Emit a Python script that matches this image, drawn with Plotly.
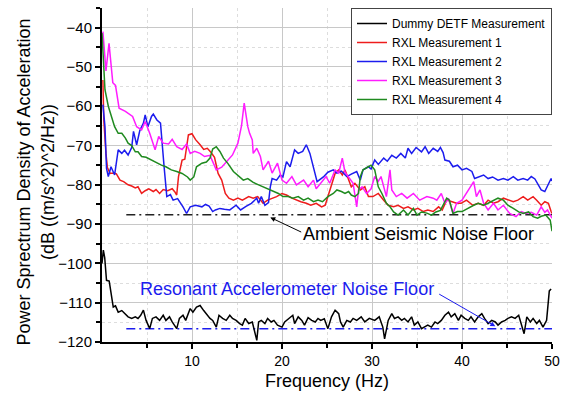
import plotly.graph_objects as go

# ---------------- data ----------------
dummy_f = [0, 0.15, 0.3, 0.5, 0.8, 1.1, 1.25, 1.5, 1.8, 2.2, 2.6, 2.9, 3.3, 3.7, 4.0, 4.3, 4.6, 4.9, 5.3, 5.6,
           6.0, 6.4, 6.8, 7.1, 7.5, 7.8, 8.3, 8.6, 9.0, 9.3, 9.8, 10.1, 10.5, 10.9, 11.3, 11.6, 12.0, 12.3, 12.7, 13.0,
           13.4, 13.8, 14.2, 14.5, 14.9, 15.3, 15.6, 15.9, 16.3, 16.7, 17.2, 17.4, 17.7, 18.1, 18.4, 18.8, 19.1, 19.5, 20.0, 20.3,
           20.9, 21.2, 21.4, 21.8, 22.2, 22.5, 22.9, 23.3, 23.7, 24.0, 24.3, 24.7, 25.1, 25.5, 25.9, 26.3, 26.5, 26.8, 27.2, 27.6,
           27.9, 28.3, 28.8, 29.2, 29.7, 30.3, 30.8, 31.2, 31.4, 31.8, 32.2, 32.5, 32.9, 33.3, 33.6, 34.0, 34.4, 34.7, 35.1, 35.5,
           35.8, 36.2, 36.6, 37.0, 37.3, 37.7, 38.1, 38.5, 38.8, 39.2, 39.6, 39.9, 40.3, 40.7, 41.0, 41.4, 41.8, 42.2, 42.5, 42.9,
           43.3, 43.7, 44.0, 44.4, 44.8, 45.1, 45.5, 45.9, 46.3, 46.6, 46.9, 47.2, 47.6, 47.9, 48.3, 48.6, 49.0, 49.4, 49.7, 49.9]
dummy_db = [-100, -96.6, -98.5, -104.3, -104.5, -109.4, -111.1, -110.8, -112.4, -112, -112.8, -113.6, -114, -113.6, -114, -113.2, -111.9, -114.5, -116.6, -114,
            -113.6, -114.5, -113.2, -114.5, -113.6, -114.9, -116.6, -114, -113.2, -114.5, -111.5, -112.4, -111.1, -110.7, -112, -112.8, -114, -114.5, -116.2, -113.2,
            -114, -114.5, -113.2, -114, -114.5, -115.3, -115.7, -114, -115.3, -114.9, -119.6, -114.9, -114.5, -115.3, -114, -114.9, -114.5, -115.7, -116.2, -114.9,
            -113.6, -113.2, -115.3, -113.6, -114.5, -115.7, -113.8, -114.5, -114.9, -114, -114.5, -114.1, -116.6, -113.6, -111.9, -112.8, -114.9, -116.2, -114.5, -114.9,
            -114, -114.5, -113.6, -114.9, -114, -114.5, -113.6, -116.2, -119.2, -114.5, -112.8, -114, -113.6, -114.5, -114, -114.9, -113.6, -115.7, -114.9, -116.6,
            -116.2, -115.7, -116.2, -114.9, -115.3, -114.5, -113.2, -112.4, -113.6, -112.8, -114.5, -113.2, -114, -114.5, -113.6, -114.9, -113.6, -112.8, -114, -115.3,
            -114.5, -114.9, -115.7, -114.9, -114.5, -114, -113.6, -114, -113.2, -115.3, -117.9, -113.6, -114.9, -114, -115.3, -114.5, -116.2, -114.5, -107, -106.5]

rxl1_f = [0.1, 0.2, 0.44, 0.6, 0.9, 1.3, 1.6, 2.0, 2.4, 2.9, 3.3, 3.7, 4.0, 4.4, 4.8, 5.2, 5.7, 6.0, 6.4, 6.8,
          7.3, 7.8, 8.1, 8.3, 8.5, 8.9, 9.2, 9.6, 10.0, 10.4, 10.9, 11.3, 11.7, 12.1, 12.5, 12.9, 13.3, 13.7, 14.1, 14.6,
          15.1, 15.6, 16.3, 16.8, 17.3, 17.9, 18.4, 19.0, 19.4, 20.0, 20.5, 21.1, 21.6, 22.1, 22.7, 23.2, 23.8, 24.4, 24.8, 25.1,
          25.5, 25.9, 26.3, 26.7, 27.0, 27.4, 27.7, 28.1, 28.7, 29.2, 29.6, 30.1, 30.7, 31.3, 31.8, 32.4, 32.9, 33.5, 34.0, 34.6,
          35.1, 35.7, 36.2, 36.8, 37.4, 37.8, 38.3, 38.9, 39.4, 39.9, 40.5, 41.2, 41.8, 42.4, 42.9, 43.5, 44.0, 44.6, 45.1, 45.7,
          46.2, 46.8, 47.3, 47.9, 48.3, 48.8, 49.2, 49.6, 49.9, 50.0]
rxl1_db = [-53.3, -63.5, -72, -75.6, -77.1, -77, -77.2, -78.8, -79.2, -80, -80.3, -80.8, -80.5, -82.2, -81.5, -81, -81.7, -81.2, -82.2, -81.2,
           -81.5, -81, -81.8, -82.6, -77.9, -73.7, -73.5, -67.3, -67, -68.5, -69.8, -71, -70.7, -71.7, -73, -77.1, -78.8, -82.2, -83.4, -83.9,
           -83.4, -83.9, -83, -83.4, -83, -84.7, -83.9, -83.4, -83, -82.2, -82.6, -83.4, -83.9, -84.3, -84.7, -85.2, -84.7, -85.6, -85.2, -83,
           -79.6, -77.1, -76.2, -77.5, -76.2, -78.8, -80.5, -79.6, -81.3, -80.5, -83, -83, -82.2, -83.9, -85.2, -85.6, -85.2, -86, -85.6, -86.4,
           -86, -86.8, -86.4, -86.8, -85.6, -86.4, -83.9, -84.3, -84.7, -84.7, -83.9, -85.2, -84.7, -85.2, -83.9, -84.7, -84.3, -83.4, -83.9, -84.3,
           -83.9, -83, -83.9, -83, -83.9, -85.2, -84.3, -84.7, -86.8, -87.3]

rxl2_f = [0.1, 0.33, 0.5, 0.7, 1.0, 1.4, 1.8, 2.2, 2.5, 2.9, 3.3, 3.5, 3.85, 4.2, 4.6, 4.8, 5.1, 5.5, 5.7, 6.1,
          6.5, 6.6, 6.9, 7.2, 7.6, 7.9, 8.4, 9.0, 9.4, 9.8, 10.4, 11.1, 11.5, 11.9, 12.3, 12.6, 13.1, 13.6, 14.2, 14.9,
          15.4, 16.0, 16.6, 17.2, 17.4, 17.7, 18.1, 18.5, 18.7, 18.9, 19.4, 19.8, 20.1, 20.5, 20.9, 21.4, 21.8, 22.3, 22.7, 23.1,
          23.5, 23.9, 24.6, 25.1, 25.7, 26.1, 26.6, 27.2, 27.7, 28.3, 28.7, 29.0, 29.6, 29.9, 30.3, 30.7, 31.3, 31.7, 32.2, 32.7,
          33.2, 33.7, 34.0, 34.4, 34.9, 35.5, 35.9, 36.3, 36.8, 37.3, 37.6, 37.9, 38.1, 38.6, 39.0, 39.5, 40.0, 40.5, 40.8, 41.1,
          41.4, 41.9, 42.4, 42.9, 43.4, 44.0, 44.6, 45.1, 45.7, 46.2, 46.8, 47.3, 47.7, 48.1, 48.5, 48.8, 49.2, 49.6, 49.9, 50.0]
rxl2_db = [-59.6, -65.2, -75.8, -77.9, -75.4, -77.5, -71.1, -72, -71.2, -72.4, -70.5, -66.4, -69.8, -66.2, -64.3, -62.2, -65.2, -62.6, -62, -63.5,
           -64.3, -67.7, -75.4, -83, -82.5, -83.9, -83.5, -85.6, -87.3, -85.6, -85.2, -85.6, -85, -85.4, -86.8, -86.4, -86, -86.2, -86.4, -85.2,
           -86.4, -85.5, -84.7, -83.4, -84.7, -83, -85.2, -84.5, -80.5, -78.4, -78.8, -77.5, -78, -74.1, -75.4, -71.1, -72, -71.5, -69.8, -72,
           -75.8, -79.2, -78, -76.8, -76.2, -77, -76.5, -77.9, -77.3, -76.6, -78.8, -76.2, -75.4, -76, -73.7, -74.8, -73.2, -74, -72.5, -73.2,
           -72, -73.2, -70.7, -72, -70.5, -71.6, -70.3, -72, -70.7, -71.5, -70.5, -71.8, -73.7, -74, -75.4, -75, -76.2, -75.8, -76.2, -76.6,
           -78.4, -78, -77.5, -78.4, -78, -78.8, -78.4, -78.8, -77.9, -78.8, -78.4, -78.8, -77.9, -78.5, -80, -81.3, -81.7, -79.6, -78.4, -79]

rxl3_f = [0.1, 0.44, 0.78, 1.2, 1.5, 1.9, 2.6, 3.1, 3.4, 3.85, 4.4, 4.8, 5.3, 5.9, 6.3, 6.8, 7.4, 7.8, 8.3, 8.9,
          9.4, 9.8, 10.3, 10.9, 11.4, 12.0, 12.7, 13.3, 14.0, 14.5, 15.1, 15.5, 15.8, 16.2, 16.4, 16.7, 16.8, 17.2, 17.6, 17.9,
          18.5, 18.9, 19.5, 20.0, 20.5, 21.1, 21.6, 22.4, 22.9, 23.5, 23.8, 24.3, 24.9, 25.3, 25.9, 26.3, 26.7, 27.0, 27.6, 27.9,
          28.3, 28.5, 28.9, 29.4, 29.9, 30.3, 30.7, 31.0, 31.6, 32.0, 32.2, 32.7, 33.3, 33.9, 34.6, 35.3, 36.1, 36.8, 37.2, 37.7,
          38.1, 38.5, 39.0, 39.4, 40.0, 40.5, 40.9, 41.3, 41.6, 42.0, 42.4, 42.9, 43.5, 44.0, 44.6, 45.3, 46.0, 46.6, 47.1, 47.7,
          48.3, 48.8, 49.2, 49.5, 50.0]
rxl3_db = [-41, -51, -44, -54, -54.7, -60.5, -61.3, -62.2, -62.6, -65.2, -66, -63.9, -66.9, -71.1, -67.7, -69.4, -69.6, -68.4, -70.3, -71,
           -69.6, -72, -71.5, -72, -72.8, -72.5, -76.2, -75.5, -73.7, -72.4, -69.4, -65, -59.2, -65.2, -66.9, -68.6, -72, -70.7, -72.8, -76.2,
           -74, -77, -74.5, -78.8, -79.6, -77.9, -80, -78.8, -80.5, -78.8, -81, -79.6, -77.9, -79.6, -76.2, -77, -73.2, -76.8, -78.8, -79.6,
           -85.6, -81.3, -80.5, -82.2, -81, -77.9, -79.1, -77.9, -83, -76.2, -81.3, -83, -82.2, -83.4, -82.2, -83.9, -83, -83.4, -83.9, -82.2,
           -84.7, -83.5, -87.3, -84.7, -83.9, -82.2, -80.5, -79.2, -83, -81.3, -84.7, -86.4, -84.7, -86.4, -85.2, -87.3, -88.1, -86.8, -87.3, -87,
           -87.7, -85.6, -87, -86.4, -88.5]

rxl4_f = [0.0, 0.15, 0.33, 0.7, 1.0, 1.4, 1.8, 2.2, 2.6, 2.9, 3.3, 3.7, 4.0, 4.4, 4.9, 5.5, 6.0, 6.6, 7.1, 7.7,
          8.3, 8.9, 9.5, 9.8, 10.2, 10.5, 11.1, 11.6, 12.0, 12.3, 12.7, 13.1, 13.5, 14.0, 14.6, 15.1, 15.7, 16.2, 16.8, 17.4,
          17.9, 18.5, 19.1, 19.6, 20.1, 20.7, 21.2, 21.8, 22.4, 22.9, 23.5, 24.0, 24.5, 25.1, 25.7, 26.1, 26.6, 27.0, 27.4, 27.7,
          28.1, 28.5, 28.7, 29.0, 29.6, 29.9, 30.3, 30.7, 31.1, 31.6, 32.0, 32.4, 32.9, 33.5, 34.0, 34.6, 35.0, 35.5, 36.1, 36.6,
          37.1, 37.6, 38.3, 38.6, 39.0, 39.5, 40.0, 40.6, 41.3, 41.8, 42.4, 42.9, 43.5, 44.0, 44.6, 45.1, 45.7, 46.3, 46.8, 47.4,
          47.9, 48.4, 48.8, 49.3, 49.8, 50.0]
rxl4_db = [-41.4, -48.2, -55.8, -60, -62, -65.2, -66.9, -66.9, -68.1, -69.4, -70, -71.6, -71.6, -72.8, -73, -73.7, -74.4, -75, -75.4, -76.2,
           -76.6, -77.1, -78, -78.8, -78, -75.4, -74.5, -74.2, -73.2, -70.9, -70.3, -71.5, -73.2, -74.6, -76.6, -77.7, -78.8, -78.4, -79.4, -80,
           -80.5, -81.3, -81.7, -82.2, -83, -83, -83.4, -83, -83.9, -83.4, -84.3, -83.9, -84.3, -83, -82.2, -81.3, -81.7, -82.2, -81.7, -82.6,
           -83, -82.2, -77.9, -76.2, -75.4, -75, -76.2, -80.5, -82.2, -84.7, -85.6, -86.9, -87.7, -86.4, -87.7, -86, -87.7, -86.9, -87.2, -87.7,
           -86.9, -86.5, -83.4, -83.9, -87.3, -86.8, -86.8, -86, -85.2, -84.7, -85.2, -84.7, -83.9, -83.4, -83.9, -85.2, -86, -86.9, -87.3, -86.9,
           -88.1, -88.5, -88, -87.7, -89, -91.8]

floor_f = [2.7, 50]
ambient_floor_db = [-87.6, -87.6]
resonant_floor_db = [-116.6, -116.6]

series_names = ["Dummy DETF Measurement", "RXL Measurement 1", "RXL Measurement 2",
                "RXL Measurement 3", "RXL Measurement 4"]
series_colors = ["#000000", "#ee1c1c", "#1c1cee", "#ff1cff", "#1f8a1f"]

x_tickvals = [10, 20, 30, 40, 50]
x_minor_tickvals = [5, 15, 25, 35, 45]
y_tickvals = [-120, -110, -100, -90, -80, -70, -60, -50, -40]

FONT = "Liberation Sans, Arial, sans-serif"

fig = go.Figure()

# noise floor reference lines
fig.add_trace(go.Scatter(x=floor_f, y=ambient_floor_db, mode="lines", showlegend=False,
                         line=dict(color="#222222", width=1.5, dash="9px,4px,2px,4px"), hoverinfo="skip"))
fig.add_trace(go.Scatter(x=floor_f, y=resonant_floor_db, mode="lines", showlegend=False,
                         line=dict(color="#1c1cee", width=1.5, dash="9px,4px,2px,4px"), hoverinfo="skip"))

series_f = [dummy_f, rxl1_f, rxl2_f, rxl3_f, rxl4_f]
series_db = [dummy_db, rxl1_db, rxl2_db, rxl3_db, rxl4_db]
for name, color, f, db in zip(series_names, series_colors, series_f, series_db):
    fig.add_trace(go.Scatter(x=f, y=db, mode="lines", name=name,
                             line=dict(color=color, width=1.5)))

# annotations
fig.add_annotation(x=35.2, y=-92.4, xref="x", yref="y", text="Ambient Seismic Noise Floor",
                   showarrow=False, font=dict(family=FONT, size=18, color="#000000"))
fig.add_annotation(x=18.7, y=-88.3, ax=22.3, ay=-92.2, xref="x", yref="y", axref="x", ayref="y",
                   text="", showarrow=True, arrowhead=2, arrowsize=1, arrowwidth=1, arrowcolor="#000000")
fig.add_annotation(x=20.5, y=-106.6, xref="x", yref="y", text="Resonant Accelerometer Noise Floor",
                   showarrow=False, font=dict(family=FONT, size=18, color="#1c1cee"))
fig.add_annotation(x=43.7, y=-116.0, ax=37.3, ay=-107.6, xref="x", yref="y", axref="x", ayref="y",
                   text="", showarrow=True, arrowhead=2, arrowsize=1, arrowwidth=1, arrowcolor="#1c1cee")

# axis titles
fig.add_annotation(x=-0.147, y=0.48, xref="paper", yref="paper", textangle=-90,
                   xanchor="center", yanchor="middle",
                   text="Power Sprectrum Density of Acceleration<br>(dB ((m/s^2)^2/Hz))",
                   showarrow=False, font=dict(family=FONT, size=18, color="#000000"))
fig.add_annotation(x=0.5, y=-0.117, xref="paper", yref="paper", text="Frequency (Hz)",
                   xanchor="center", yanchor="middle",
                   showarrow=False, font=dict(family=FONT, size=18, color="#000000"))

fig.update_layout(
    width=562, height=394,
    margin=dict(l=102, r=10, t=8, b=52, autoexpand=False),
    paper_bgcolor="white", plot_bgcolor="white",
    font=dict(family=FONT, size=14, color="#000000"),
    legend=dict(x=1, y=1, xanchor="right", yanchor="top", bgcolor="white",
                bordercolor="#444444", borderwidth=1, font=dict(size=12, family=FONT),
                tracegroupgap=0, itemwidth=30),
)
fig.update_xaxes(range=[0, 50], tickmode="array", tickvals=x_tickvals, automargin=False,
                 ticks="outside", ticklen=5, tickwidth=1.5, tickcolor="#000",
                 showline=True, linecolor="#000", linewidth=2,
                 showgrid=True, gridcolor="#c8c8c8", gridwidth=1.2, zeroline=False,
                 ticklabeloverflow="allow",
                 minor=dict(tickmode="array", tickvals=x_minor_tickvals, ticks="outside", ticklen=4,
                            tickcolor="#000", showgrid=True, gridcolor="#dddddd", griddash="dot"),
                 tickfont=dict(size=14))
fig.update_yaxes(range=[-120, -35], tickmode="array", tickvals=y_tickvals, automargin=False,
                 ticks="outside", ticklen=5, tickwidth=1.5, tickcolor="#000",
                 showline=True, linecolor="#000", linewidth=2,
                 showgrid=True, gridcolor="#c8c8c8", gridwidth=1.2, zeroline=False,
                 minor=dict(dtick=5, tick0=-120, ticks="outside", ticklen=4,
                            tickcolor="#000", showgrid=True, gridcolor="#dddddd", griddash="dot"),
                 tickfont=dict(size=15))

# remove the default 8px page margin so the 562x394 figure fills the window exactly
fig.write_html("out.html", config={"displayModeBar": False},
               post_script="document.body.style.margin='0';document.body.style.overflow='hidden';")
